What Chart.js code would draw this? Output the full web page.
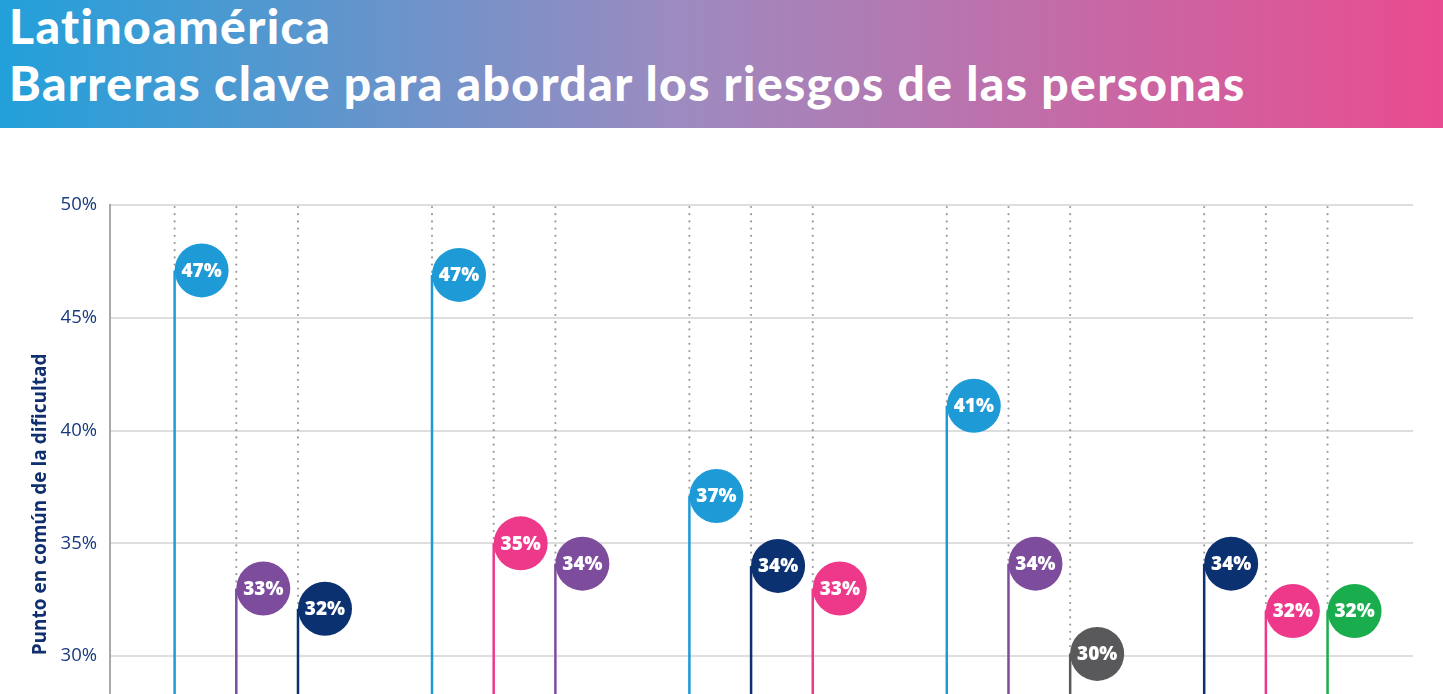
<!DOCTYPE html>
<html lang="es">
<head>
<meta charset="utf-8">
<script src="https://cdn.jsdelivr.net/npm/chart.js@4.4.1/dist/chart.umd.min.js"></script>
<style>
  html, body { margin: 0; padding: 0; width: 1443px; height: 694px; overflow: hidden; background: #fff; }
  #cabecera {
    position: absolute; left: 0; top: 0; width: 1443px; height: 128px;
    background: linear-gradient(90deg, #22a0da 0%, #9d8bc0 47%, #e94c8f 100%);
  }
  .titulo { position: absolute; left: 9px; color: #fff; font: 900 48px/48px Lato, sans-serif; letter-spacing: 1.4px; white-space: nowrap; }
  #grafico { position: absolute; left: 0; top: 128px; }
</style>
</head>
<body>
<div id="cabecera">
  <div class="titulo" style="top:2px">Latinoamérica</div>
  <div class="titulo" style="top:59px">Barreras clave para abordar los riesgos de las personas</div>
</div>
<canvas id="grafico" width="1443" height="700"></canvas>
<script>
// grupos del eje x (sus nombres quedan fuera del recorte)
const grupos = ['Grupo 1', 'Grupo 2', 'Grupo 3', 'Grupo 4', 'Grupo 5'];
// valor de la 1ª, 2ª y 3ª barrera de cada grupo
const valoresPrimera = [47.1, 46.9, 37.1, 41.1, 34.1];
const valoresSegunda = [33.0, 35.0, 34.0, 34.1, 32.0];
const valoresTercera = [32.1, 34.1, 33.0, 30.1, 32.0];
// qué barrera es cada una
const barrerasPrimera = ['A', 'A', 'A', 'A', 'C'];
const barrerasSegunda = ['B', 'D', 'C', 'B', 'D'];
const barrerasTercera = ['C', 'B', 'D', 'E', 'F'];
const ticksY = [30, 35, 40, 45, 50];

const coloresBarrera = {
    A: '#1e9bd7',
    B: '#7d4c9c',
    C: '#0b3170',
    D: '#ee398b',
    E: '#59595b',
    F: '#19ad4d'
};

function crearDataset(valores, barreras) {
    return {
        data: grupos.map((g, i) => ({ x: i, y: valores[i] })),
        backgroundColor: barreras.map(b => coloresBarrera[b]),
        borderWidth: 0,
        barPercentage: 1,
        categoryPercentage: 0.719,
        maxBarThickness: 2.5
    };
}

// línea punteada hasta arriba + círculo con la etiqueta
const piruletas = {
    id: 'piruletas',
    beforeDatasetsDraw(chart) {
        const ctx = chart.ctx;
        const top = chart.chartArea.top;
        ctx.save();
        ctx.strokeStyle = '#9c9c9c';
        ctx.lineWidth = 2.2;
        ctx.lineCap = 'round';
        ctx.setLineDash([0, 7.2]);
        chart.data.datasets.forEach((ds, i) => {
            chart.getDatasetMeta(i).data.forEach(bar => {
                ctx.beginPath();
                ctx.moveTo(bar.x, top + 2);
                ctx.lineTo(bar.x, bar.y);
                ctx.stroke();
            });
        });
        ctx.restore();
    },
    afterDatasetsDraw(chart) {
        const ctx = chart.ctx;
        const r = 27;
        ctx.save();
        ctx.font = '800 19px "Open Sans"';
        ctx.textAlign = 'center';
        ctx.textBaseline = 'middle';
        chart.data.datasets.forEach((ds, i) => {
            chart.getDatasetMeta(i).data.forEach((bar, j) => {
                const cx = bar.x + r;
                ctx.fillStyle = ds.backgroundColor[j];
                ctx.beginPath();
                ctx.arc(cx, bar.y, r, 0, Math.PI * 2);
                ctx.fill();
                ctx.fillStyle = '#fff';
                ctx.fillText(Math.round(ds.data[j].y) + '%', cx, bar.y + 1);
            });
        });
        ctx.restore();
    }
};

const config = {
    type: 'bar',
    data: {
        datasets: [
            crearDataset(valoresPrimera, barrerasPrimera),
            crearDataset(valoresSegunda, barrerasSegunda),
            crearDataset(valoresTercera, barrerasTercera)
        ]
    },
    options: {
        responsive: false,
        animation: false,
        devicePixelRatio: 1,
        layout: {
            padding: { left: 22, right: 30, top: 77, bottom: 12 }
        },
        plugins: {
            legend: { display: false },
            tooltip: { enabled: false }
        },
        scales: {
            x: {
                type: 'linear',
                offset: false,
                min: -0.4907,
                max: 4.5716,
                afterBuildTicks: s => { s.ticks = grupos.map((g, i) => ({ value: i })); },
                display: false
            },
            y: {
                min: 23.45,
                max: 50,
                afterBuildTicks: s => { s.ticks = ticksY.map(v => ({ value: v })); },
                afterFit: s => { s.width = 88; },
                grid: { color: '#dedede', lineWidth: 2, drawTicks: false },
                border: { color: '#a9a9a9', width: 2 },
                ticks: {
                    padding: 13,
                    color: '#183a7c',
                    font: { family: 'Open Sans', size: 18.5 },
                    callback: v => v + '%'
                },
                title: {
                    display: true,
                    text: 'Punto en común de la dificultad',
                    color: '#0f2f6e',
                    font: { family: 'Open Sans', size: 19, weight: 'bold' },
                    padding: { top: 7, bottom: 0 }
                }
            }
        }
    },
    plugins: [piruletas]
};

new Chart(document.getElementById('grafico'), config);
</script>
</body>
</html>
